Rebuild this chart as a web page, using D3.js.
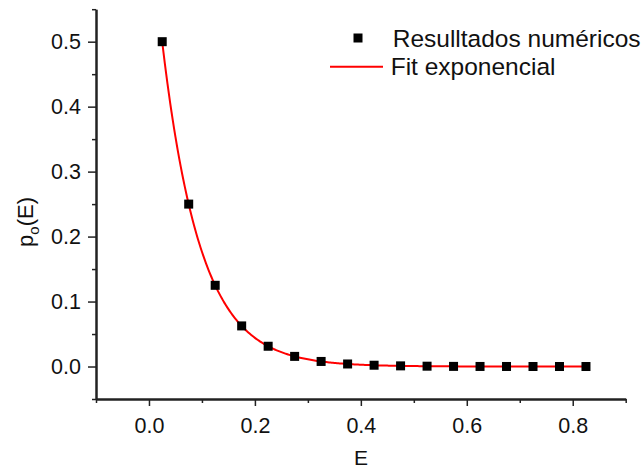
<!DOCTYPE html>
<html><head><meta charset="utf-8">
<script src="https://cdn.jsdelivr.net/npm/d3@7"></script>
<style>body{margin:0;background:#fff}svg text{font-family:"Liberation Sans",Arial,sans-serif;fill:#111}</style>
</head><body><svg id="c" width="643" height="470"></svg>
<script>
const energies = [0.025,0.075,0.125,0.175,0.225,0.275,0.325,0.375,0.425,0.475,0.525,0.575,0.625,0.675,0.725,0.775,0.825];
const probs = [0.5,0.25,0.125,0.0625,0.0312,0.0156,0.0078,0.0039,0.002,0.001,0.0005,0.0002,0.0001,0.00006,0.00003,0.00002,0.00001];
const fitA = 0.707, fitT = 0.0721;
const xMajor = [0,0.2,0.4,0.6,0.8];
const xMinor = [-0.1,0.1,0.3,0.5,0.7,0.9];
const yMajor = [0,0.1,0.2,0.3,0.4,0.5];
const yMinor = [-0.05,0.05,0.15,0.25,0.35,0.45,0.55];
const legendLabels = ["Resulltados numéricos","Fit exponencial"];

const svg = d3.select("#c");
const x = d3.scaleLinear().domain([-0.1,0.9]).range([96,625.7]);
const y = d3.scaleLinear().domain([-0.05,0.55]).range([399,9.2]);
const axisColor = "#222";

// fit curve
const fitX = d3.range(0.025, 0.8251, 0.0025);
svg.append("path").datum(fitX)
  .attr("d", d3.line().x(d=>x(d)).y(d=>y(fitA*Math.exp(-d/fitT))))
  .attr("fill","none").attr("stroke","#f00").attr("stroke-width",2);

// points
const s = 9;
svg.selectAll("rect.pt").data(energies).join("rect").attr("class","pt")
  .attr("x",(d)=>x(d)-s/2).attr("y",(d,i)=>y(probs[i])-s/2)
  .attr("width",s).attr("height",s).attr("fill","#000");

// x axis
const gx = svg.append("g").attr("transform","translate(0,399)");
gx.call(d3.axisBottom(x).tickValues(xMajor).tickFormat(d3.format(".1f")).tickSizeInner(7).tickSizeOuter(0).tickPadding(12));
gx.append("g").call(d3.axisBottom(x).tickValues(xMinor).tickFormat("").tickSizeInner(4).tickSizeOuter(0));
gx.selectAll("path.domain").attr("stroke",axisColor).attr("stroke-width",2);
gx.selectAll(".tick line").attr("stroke",axisColor).attr("stroke-width",1.5);
gx.selectAll("text").attr("font-size",21.5).attr("fill","#111");

// y axis
const gy = svg.append("g").attr("transform","translate(96,0)");
gy.call(d3.axisLeft(y).tickValues(yMajor).tickFormat(d3.format(".1f")).tickSizeInner(8).tickSizeOuter(0).tickPadding(7));
gy.append("g").call(d3.axisLeft(y).tickValues(yMinor).tickFormat("").tickSizeInner(4).tickSizeOuter(0));
gy.selectAll("path.domain").attr("stroke",axisColor).attr("stroke-width",2);
gy.selectAll(".tick line").attr("stroke",axisColor).attr("stroke-width",1.5);
gy.selectAll("text").attr("font-size",21.5).attr("fill","#111");

// axis labels
svg.append("text").attr("x",361).attr("y",465).attr("text-anchor","middle").attr("font-size",21).text("E");
const yl = svg.append("text").attr("transform","translate(33,222) rotate(-90)").attr("text-anchor","middle").attr("font-size",22);
yl.append("tspan").text("p");
yl.append("tspan").attr("font-size",15).attr("dy",6).text("o");
yl.append("tspan").attr("dy",-6).text("(E)");

// legend
svg.append("rect").attr("x",358-4.5).attr("y",38-4.5).attr("width",9).attr("height",9).attr("fill","#000");
svg.append("line").attr("x1",330).attr("x2",383).attr("y1",66.7).attr("y2",66.7).attr("stroke","#f00").attr("stroke-width",2);
svg.selectAll("text.leg").data(legendLabels).join("text").attr("class","leg")
  .attr("x",(d,i)=>i===0?392.7:390.7).attr("y",(d,i)=>i===0?46.5:74.5).attr("font-size",24.5).text(d=>d);
</script></body></html>
